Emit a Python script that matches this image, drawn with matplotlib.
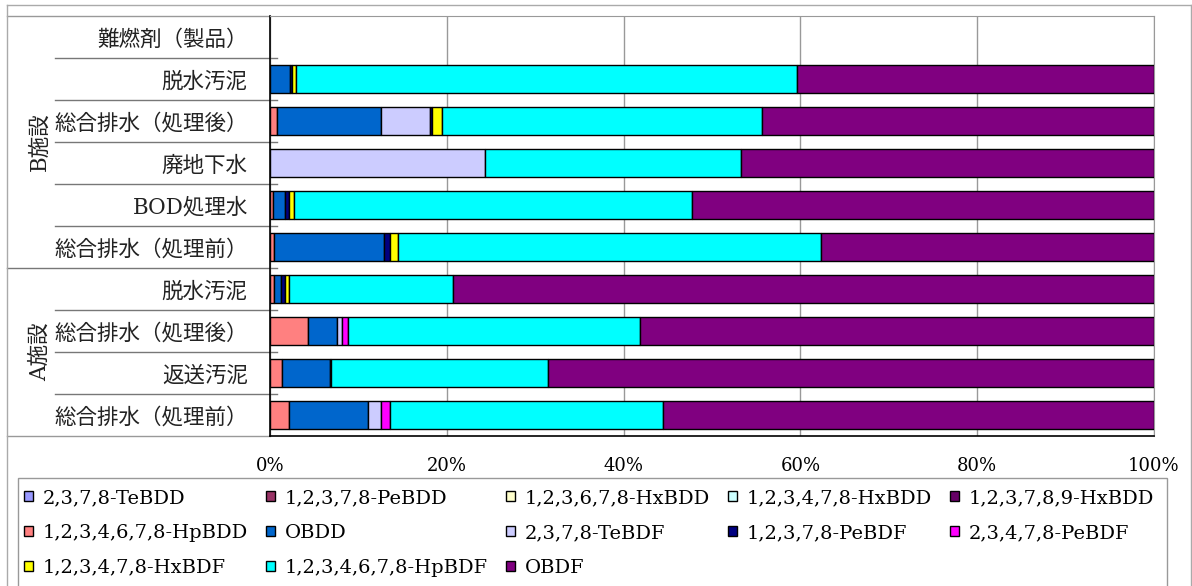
import matplotlib
matplotlib.use("Agg")
import matplotlib.pyplot as plt
import matplotlib.transforms as mtransforms
from matplotlib.patches import Patch, Rectangle
from matplotlib.lines import Line2D
import numpy as np

# カテゴリ（上から順）
categories = ["難燃剤（製品）", "脱水汚泥", "総合排水（処理後）", "廃地下水", "BOD処理水",
              "総合排水（処理前）", "脱水汚泥", "総合排水（処理後）", "返送汚泥", "総合排水（処理前）"]
groups = ["B施設", "A施設"]
group_sizes = [6, 4]

series_names = ["2,3,7,8-TeBDD", "1,2,3,7,8-PeBDD", "1,2,3,6,7,8-HxBDD", "1,2,3,4,7,8-HxBDD",
                "1,2,3,7,8,9-HxBDD", "1,2,3,4,6,7,8-HpBDD", "OBDD", "2,3,7,8-TeBDF",
                "1,2,3,7,8-PeBDF", "2,3,4,7,8-PeBDF", "1,2,3,4,7,8-HxBDF", "1,2,3,4,6,7,8-HpBDF", "OBDF"]
series_colors = ["#9999FF", "#993366", "#FFFFCC", "#CCFFFF", "#660066", "#FF8080", "#0066CC",
                 "#CCCCFF", "#000080", "#FF00FF", "#FFFF00", "#00FFFF", "#800080"]

# 割合 (%)
te_bdd = [0, 0, 0, 0, 0, 0, 0, 0, 0, 0]
pe_bdd = [0, 0, 0, 0, 0, 0, 0, 0, 0, 0]
hx_bdd_678 = [0, 0, 0, 0, 0, 0, 0, 0, 0, 0]
hx_bdd_478 = [0, 0, 0, 0, 0, 0, 0, 0, 0, 0]
hx_bdd_789 = [0, 0, 0, 0, 0, 0, 0, 0, 0, 0]
hp_bdd = [0, 0, 0.75, 0, 0.3, 0.45, 0.4, 4.3, 1.4, 2.2]
o_bdd = [0, 2.3, 11.8, 0, 1.4, 12.5, 0.8, 3.3, 5.35, 8.9]
te_bdf = [0, 0, 5.5, 24.3, 0, 0, 0, 0.6, 0, 1.5]
pe_bdf_12378 = [0, 0.2, 0.3, 0, 0.4, 0.6, 0.5, 0, 0.2, 0]
pe_bdf_23478 = [0, 0, 0, 0, 0, 0, 0, 0.6, 0, 1.0]
hx_bdf = [0, 0.4, 1.1, 0, 0.6, 0.9, 0.5, 0, 0, 0]
hp_bdf = [0, 56.7, 36.25, 29.0, 45.0, 47.85, 18.5, 33.0, 24.5, 30.9]
o_bdf = [0, 40.4, 44.3, 46.7, 52.3, 37.7, 79.3, 58.2, 68.55, 55.5]

series = [te_bdd, pe_bdd, hx_bdd_678, hx_bdd_478, hx_bdd_789, hp_bdd, o_bdd, te_bdf,
          pe_bdf_12378, pe_bdf_23478, hx_bdf, hp_bdf, o_bdf]

serif_cjk = ["DejaVu Serif", "Noto Sans CJK JP"]
plt.rcParams["font.family"] = serif_cjk

W, H = 1192, 586
fig = plt.figure(figsize=(W / 100, H / 100), dpi=100)
ax = fig.add_axes([270 / W, 1 - 436 / H, 884 / W, 420 / H])

y = np.arange(len(categories))
left = np.zeros(len(categories))
for name, vals, col in zip(series_names, series, series_colors):
    vals = np.array(vals, dtype=float)
    nz = vals > 0
    if nz.any():
        ax.barh(y[nz], vals[nz], left=left[nz], height=0.67, color=col,
                edgecolor="black", linewidth=1.0, zorder=3)
    left += vals

ax.set_xlim(0, 100)
ax.set_ylim(len(categories) - 0.5, -0.5)
ax.set_xticks([0, 20, 40, 60, 80, 100])
ax.set_xticklabels(["0%", "20%", "40%", "60%", "80%", "100%"], fontsize=13)
ax.tick_params(axis="x", length=0, pad=15)
ax.grid(axis="x", color="#999999", linewidth=1, zorder=0)
ax.set_axisbelow(True)

ax.set_yticks(y)
ax.set_yticklabels(categories, fontsize=15.5, color="#222222")
ax.tick_params(axis="y", length=0, pad=16)

for s in ["top", "right"]:
    ax.spines[s].set_color("#999999")
for s in ["left", "bottom"]:
    ax.spines[s].set_color("black")
    ax.spines[s].set_linewidth(1.2)

# 区切り線
trans = mtransforms.blended_transform_factory(ax.transAxes, ax.transData)
x_cat = (55 - 270) / 884
x_grp = (7 - 270) / 884
x_in = (277 - 270) / 884
bounds = np.cumsum(group_sizes) - 0.5
for b in np.arange(0.5, len(categories) - 1, 1.0):
    x0 = x_grp if b in bounds else x_cat
    ax.plot([x0, x_in], [b, b], color="#777777", lw=1, transform=trans, clip_on=False, zorder=1)
ax.plot([x_grp, 0], [len(categories) - 0.5] * 2, color="#999999", lw=1, transform=trans, clip_on=False)
ax.plot([x_grp, 0], [-0.5, -0.5], color="#999999", lw=1, transform=trans, clip_on=False)

# グループ名
start = 0
for g, n in zip(groups, group_sizes):
    yc = 16 + 42 * (start + n / 2)
    fig.text(40 / W, 1 - yc / H, g, rotation=90, ha="center", va="center",
             fontsize=15.5, color="#222222")
    start += n

# 外枠
for xs, ys in [([7, 1191], [5, 5]), ([7, 7], [5, 586]), ([1191, 1191], [5, 586])]:
    fig.add_artist(Line2D([x / W for x in xs], [1 - v / H for v in ys], color="#aaaaaa", lw=1))

# 凡例の枠
fig.add_artist(Rectangle((18 / W, 1 - 600 / H), (1167 - 18) / W, (600 - 478) / H,
                         transform=fig.transFigure, fill=False, edgecolor="#999999", lw=1))

# 凡例（行優先の並びにする）
handles = [Patch(facecolor=c, edgecolor="black", linewidth=1) for c in series_colors]
ncol = 5
order = []
for c in range(ncol):
    order += list(range(c, len(handles), ncol))
leg = fig.legend([handles[i] for i in order], [series_names[i] for i in order],
                 loc="upper left", bbox_to_anchor=(18 / W, 1 - 489 / H, (1160 - 18) / W, 0.01),
                 mode="expand", ncol=ncol, fontsize=14.0, frameon=False,
                 borderaxespad=0, borderpad=0.3, handlelength=0.45,
                 handleheight=0.45, handletextpad=0.5, labelspacing=0.87, columnspacing=0.5)

fig.savefig("out.png", dpi=100)
